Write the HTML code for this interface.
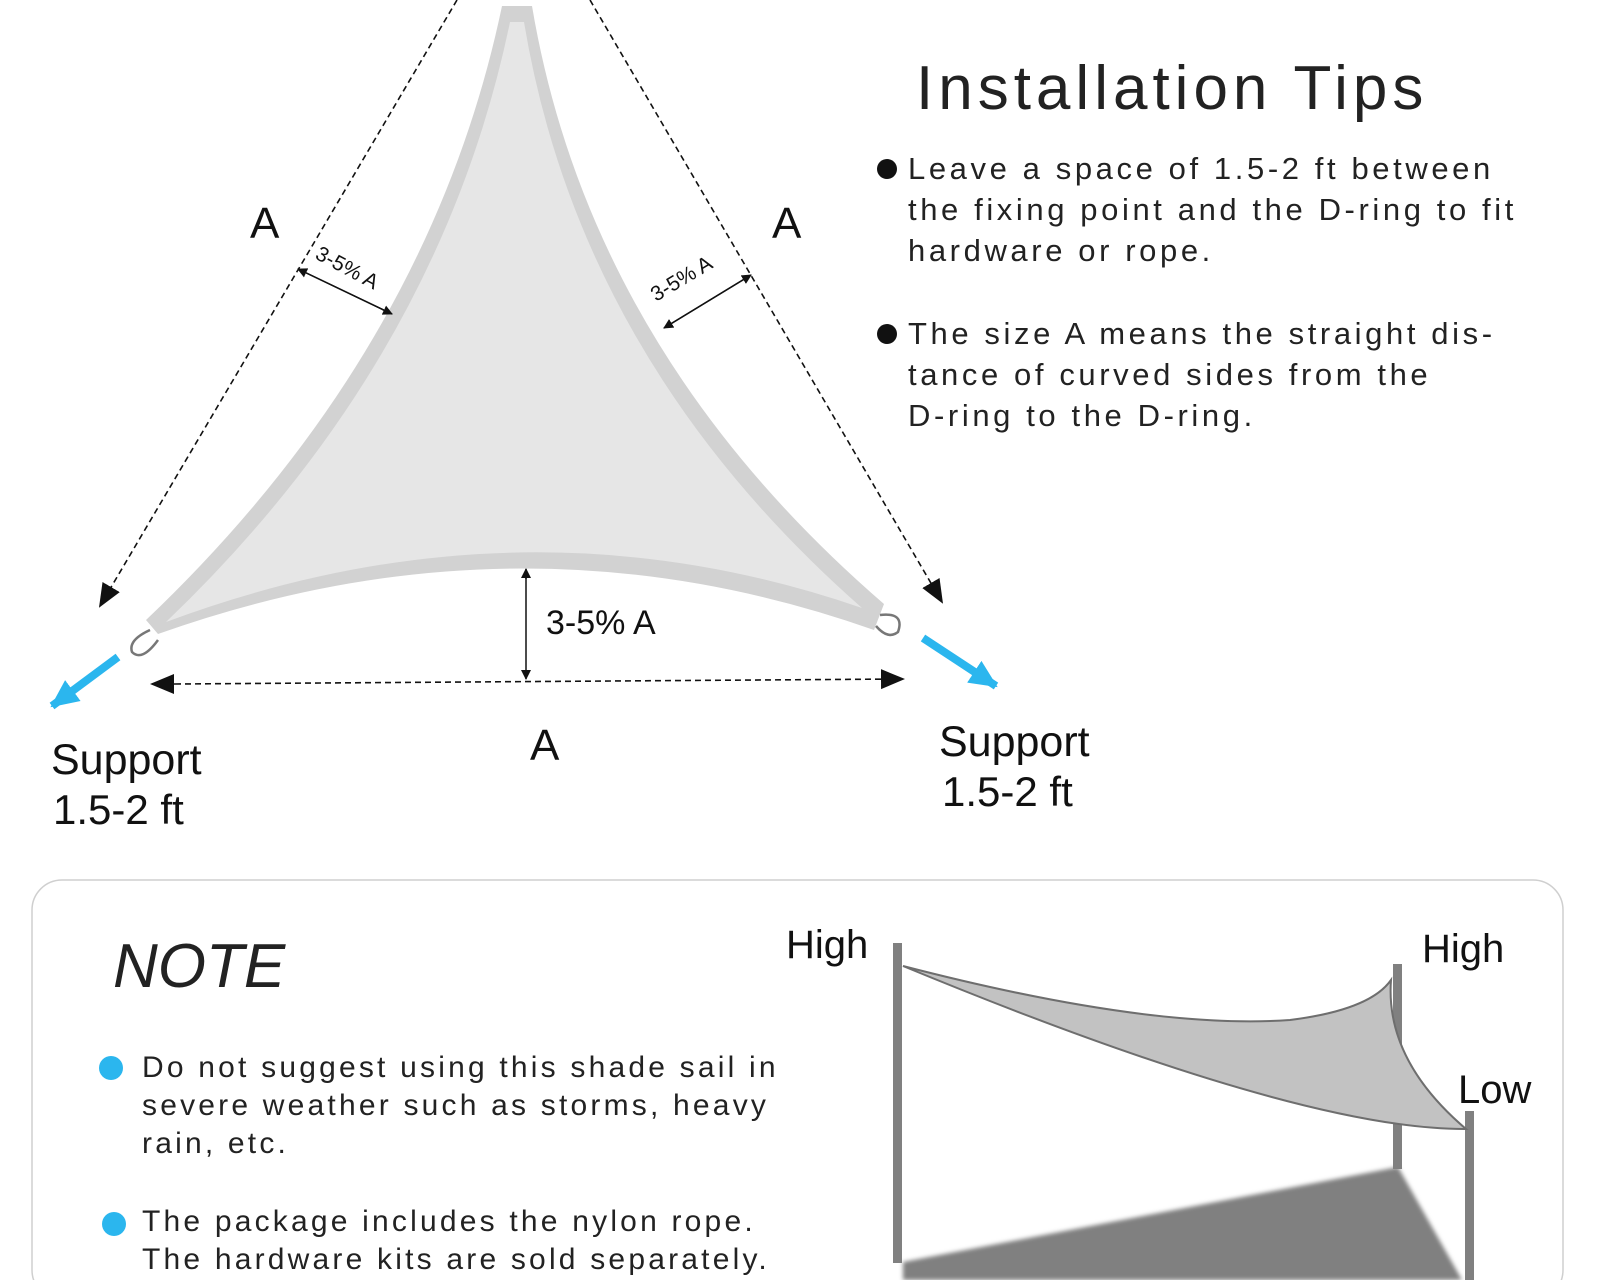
<!DOCTYPE html>
<html><head><meta charset="utf-8"><style>
body{margin:0;width:1600px;height:1280px;background:#fff;overflow:hidden;position:relative;font-family:"Liberation Sans",sans-serif;color:#111}
.t{position:absolute;white-space:nowrap;line-height:1}
.tips{position:absolute;left:908px;font-size:31px;letter-spacing:3.6px;line-height:41px;color:#222;white-space:nowrap}
.dot{position:absolute;width:20px;height:20px;border-radius:50%;background:#111}
.bd{position:absolute;width:24px;height:24px;border-radius:50%;background:#2bb6ee}
.note{position:absolute;left:142px;font-size:30px;letter-spacing:3.2px;line-height:38px;color:#222;white-space:nowrap}
</style></head><body>
<svg width="1600" height="1280" style="position:absolute;left:0;top:0">
<defs>
<marker id="ah" markerWidth="10" markerHeight="10" refX="9" refY="5" orient="auto" markerUnits="userSpaceOnUse"><path d="M0,0 L10,5 L0,10z" fill="#111"/></marker>
<marker id="big" markerWidth="24" markerHeight="24" refX="22" refY="12" orient="auto" markerUnits="userSpaceOnUse"><path d="M0,2 L24,12 L0,22z" fill="#111"/></marker>
<marker id="blue" markerWidth="30" markerHeight="30" refX="26" refY="15" orient="auto" markerUnits="userSpaceOnUse"><path d="M0,2 L28,15 L0,28z" fill="#2bb6ee"/></marker>
<filter id="bl"><feGaussianBlur stdDeviation="2"/></filter>
</defs>
<line x1="457" y1="0" x2="100" y2="606" stroke="#111" stroke-width="1.6" stroke-dasharray="6,4" marker-end="url(#big)"/>
<line x1="590" y1="0" x2="942" y2="602" stroke="#111" stroke-width="1.6" stroke-dasharray="6,4" marker-end="url(#big)"/>
<line x1="175" y1="684" x2="903" y2="679" stroke="#111" stroke-width="1.6" stroke-dasharray="6,4" marker-end="url(#big)"/>
<line x1="175" y1="684" x2="152" y2="684" stroke="#111" stroke-width="1.6" marker-end="url(#big)"/>
<path d="M502,6 L532,6 Q590,350 884,604 L874,630 Q520,505 158,634 L146,620 Q430,350 502,6z" fill="#d2d2d2"/>
<path d="M510,22 L524,22 Q580,360 862,608 Q520,490 166,622 Q440,360 510,22z" fill="#e6e6e6"/>
<path d="M150,630 Q128,640 132,652 Q142,662 158,640" fill="none" stroke="#777" stroke-width="2.5"/>
<path d="M880,615 Q905,612 898,632 Q888,640 876,626" fill="none" stroke="#777" stroke-width="2.5"/>
<line x1="118" y1="657" x2="52" y2="706" stroke="#2bb6ee" stroke-width="8" marker-end="url(#blue)"/>
<line x1="923" y1="638" x2="996" y2="686" stroke="#2bb6ee" stroke-width="8" marker-end="url(#blue)"/>
<line x1="526" y1="579" x2="526" y2="569" stroke="#111" stroke-width="1.5" marker-end="url(#ah)"/>
<line x1="526" y1="572" x2="526" y2="679" stroke="#111" stroke-width="1.5" marker-end="url(#ah)"/>
<line x1="392" y1="314" x2="298" y2="269" stroke="#111" stroke-width="1.5" marker-end="url(#ah)"/>
<line x1="298" y1="269" x2="392" y2="314" stroke="#111" stroke-width="1.5" marker-end="url(#ah)"/>
<line x1="751" y1="275" x2="664" y2="328" stroke="#111" stroke-width="1.5" marker-end="url(#ah)"/>
<line x1="664" y1="328" x2="751" y2="275" stroke="#111" stroke-width="1.5" marker-end="url(#ah)"/>
<text x="314" y="258" font-size="21" transform="rotate(28 314 258)" font-family="Liberation Sans" fill="#111">3-5% A</text>
<text x="656" y="302" font-size="21" transform="rotate(-31 656 302)" font-family="Liberation Sans" fill="#111">3-5% A</text>
<rect x="32" y="880" width="1531" height="420" rx="30" fill="#fff" stroke="#cfcfcf" stroke-width="1.5"/>
<path d="M903,1262 L1398,1167 L1462,1280 L903,1280z" fill="#808080" filter="url(#bl)"/>
<rect x="893" y="943" width="9" height="320" fill="#808080"/>
<rect x="1393" y="964" width="9" height="205" fill="#808080"/>
<rect x="1465" y="1111" width="9" height="170" fill="#808080"/>
<path d="M903,966 Q1150,1030 1290,1020 Q1370,1010 1391,980 Q1385,1060 1466,1129 Q1300,1130 903,966z" fill="#c2c2c2" stroke="#6e6e6e" stroke-width="2"/>
</svg>
<div class="t" style="left:250px;top:202px;font-size:44px">A</div>
<div class="t" style="left:772px;top:202px;font-size:44px">A</div>
<div class="t" style="left:530px;top:724px;font-size:44px">A</div>
<div class="t" style="left:546px;top:606px;font-size:34px">3-5% A</div>
<div class="t" style="left:51px;top:739px;font-size:43px">Support</div>
<div class="t" style="left:53px;top:789px;font-size:42px">1.5-2 ft</div>
<div class="t" style="left:939px;top:721px;font-size:43px">Support</div>
<div class="t" style="left:942px;top:771px;font-size:42px">1.5-2 ft</div>
<div class="t" style="left:916px;top:58px;font-size:62px;letter-spacing:5px;color:#222">Installation Tips</div>
<div class="dot" style="left:877px;top:159px"></div>
<div class="tips" style="top:148px">Leave a space of 1.5-2 ft between<br>the fixing point and the D-ring to fit<br>hardware or rope.</div>
<div class="dot" style="left:877px;top:324px"></div>
<div class="tips" style="top:313px">The size A means the straight dis-<br>tance of curved sides from the<br>D-ring to the D-ring.</div>
<div class="t" style="left:113px;top:936px;font-size:62px;font-style:italic;color:#222">NOTE</div>
<div class="bd" style="left:99px;top:1056px"></div>
<div class="note" style="top:1049px">Do not suggest using this shade sail in<br>severe weather such as storms, heavy<br>rain, etc.</div>
<div class="bd" style="left:102px;top:1212px"></div>
<div class="note" style="top:1203px">The package includes the nylon rope.<br>The hardware kits are sold separately.</div>
<div class="t" style="left:786px;top:925px;font-size:40px">High</div>
<div class="t" style="left:1422px;top:929px;font-size:40px">High</div>
<div class="t" style="left:1458px;top:1070px;font-size:40px">Low</div>
</body></html>
